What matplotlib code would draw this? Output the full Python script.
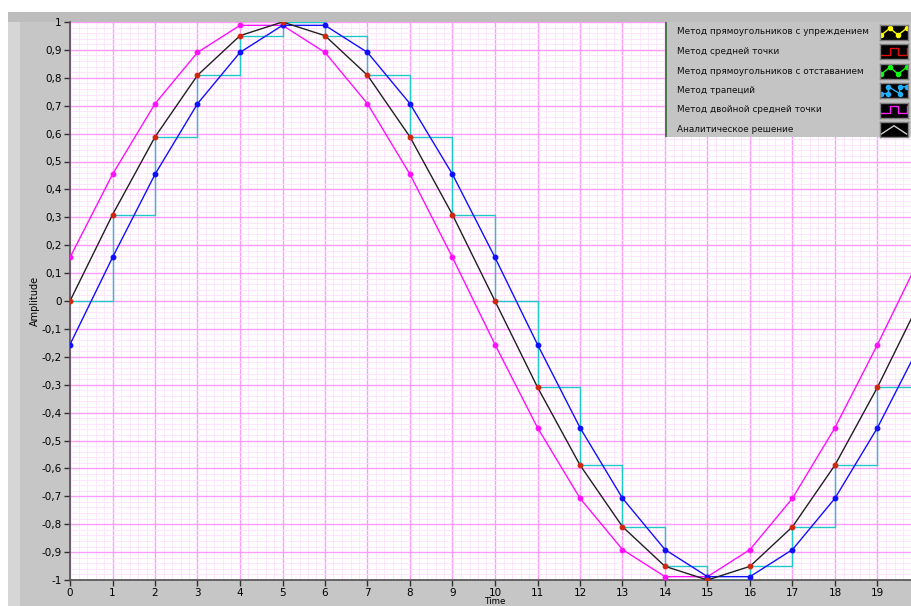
import matplotlib
matplotlib.use("Agg")
import matplotlib.pyplot as plt
from matplotlib.ticker import MultipleLocator, FixedLocator
from matplotlib.patches import Rectangle

# ---- data ----
t = list(range(0, 21))
analytic = [0, 0.309, 0.588, 0.809, 0.951, 1.0, 0.951, 0.809, 0.588, 0.309, 0,
            -0.309, -0.588, -0.809, -0.951, -1.0, -0.951, -0.809, -0.588, -0.309, 0]
lead = [0.156, 0.454, 0.707, 0.891, 0.988, 0.988, 0.891, 0.707, 0.454, 0.156, -0.156,
        -0.454, -0.707, -0.891, -0.988, -0.988, -0.891, -0.707, -0.454, -0.156, 0.156]
lag = [-0.156, 0.156, 0.454, 0.707, 0.891, 0.988, 0.988, 0.891, 0.707, 0.454, 0.156,
       -0.156, -0.454, -0.707, -0.891, -0.988, -0.988, -0.891, -0.707, -0.454, -0.156]
step_vals = analytic
x_ticks = list(range(0, 20))
y_ticks = [1, 0.9, 0.8, 0.7, 0.6, 0.5, 0.4, 0.3, 0.2, 0.1, 0, -0.1, -0.2, -0.3, -0.4,
           -0.5, -0.6, -0.7, -0.8, -0.9, -1]
legend_labels = ["Метод прямоугольников с упреждением", "Метод средней точки",
                 "Метод прямоугольников с отставанием", "Метод трапеций",
                 "Метод двойной средней точки", "Аналитическое решение"]

W, H = 912, 606
fig = plt.figure(figsize=(W / 100, H / 100), dpi=100, facecolor="white")

def fx(px):
    return px / W

def fy(py):
    return 1 - py / H

# panel background
fig.patches.append(Rectangle((fx(8), 0), 1 - fx(8), fy(12), transform=fig.transFigure,
                             facecolor="#c6c6c6", edgecolor="none", zorder=-10))
fig.patches.append(Rectangle((fx(8), 0), fx(12), fy(12), transform=fig.transFigure,
                             facecolor="#d6d6d6", edgecolor="none", zorder=-9))
fig.patches.append(Rectangle((fx(8), fy(22)), 1 - fx(8), fy(12) - fy(22), transform=fig.transFigure,
                             facecolor="#bdbdbd", edgecolor="none", zorder=-9))

left, top, bottom = 70, 22, 580
ax = fig.add_axes([fx(left), fy(bottom), 1 - fx(left), fy(top) - fy(bottom)])
ax.set_facecolor("white")
xmax = (W - left) / 42.5
ax.set_xlim(0, xmax)
ax.set_ylim(-1, 1)

ax.xaxis.set_major_locator(FixedLocator(x_ticks))
ax.xaxis.set_minor_locator(MultipleLocator(0.2))
ax.yaxis.set_major_locator(FixedLocator(y_ticks))
ax.yaxis.set_minor_locator(MultipleLocator(0.02))
ax.set_xticklabels([str(v) for v in x_ticks])
ax.set_yticklabels([("%g" % v).replace(".", ",") for v in y_ticks])
ax.grid(which="minor", color="#ffe2ff", lw=0.6, zorder=0)
ax.grid(which="major", color="#ff9cff", lw=1.0, zorder=0)
ax.set_axisbelow(True)
ax.tick_params(which="minor", length=0)
ax.tick_params(which="major", direction="out", length=4, width=1, color="#303030",
               labelsize=7.5, pad=2, labelcolor="black")
for s in ["top", "right"]:
    ax.spines[s].set_visible(False)
for s in ["left", "bottom"]:
    ax.spines[s].set_color("#505050")
    ax.spines[s].set_linewidth(1.2)

ax.step(t, step_vals, where="post", color="#20c8c8", lw=1.0, zorder=3)
ax.plot(t, lead, color="#ff10ff", lw=1.0, marker="o", ms=3.2, zorder=4)
ax.plot(t, lag, color="#1010ff", lw=1.0, marker="o", ms=3.2, zorder=4)
ax.plot(t, analytic, color="#202020", lw=1.0, zorder=5)
ax.plot(t, analytic, ls="none", marker="o", ms=3.2, color="#d02810", zorder=6)

fig.text(fx(35), fy(301), "Amplitude", rotation=90, ha="center", va="center", fontsize=7)
fig.text(fx(495), fy(606), "Time", ha="center", va="bottom", fontsize=6.3)

# legend panel
lx0, ly0, lx1, ly1 = 665, 22, 912, 137
fig.patches.append(Rectangle((fx(lx0), fy(ly1)), fx(lx1) - fx(lx0), fy(ly0) - fy(ly1),
                             transform=fig.transFigure, facecolor="#c4c4c4",
                             edgecolor="none", zorder=10))
fig.patches.append(Rectangle((fx(lx0), fy(ly1)), fx(2), fy(ly0) - fy(ly1),
                             transform=fig.transFigure, facecolor="#4a7a4a",
                             edgecolor="none", zorder=11))
icon_colors = ["#ffff00", "#e01010", "#10ff10", "#20b0ff", "#ff20ff", "#d0d0d0"]
icon_kind = ["zig", "pulse", "zig", "trap", "pulse", "line"]
for i, lab in enumerate(legend_labels):
    yc = 32 + i * 19.5
    fig.text(fx(677), fy(yc), lab, ha="left", va="center", fontsize=6.4, color="#101010", zorder=12)
    iax = fig.add_axes([fx(880), fy(yc + 7.5), fx(28), fy(yc - 7.5) - fy(yc + 7.5)], zorder=13)
    iax.set_facecolor("black")
    iax.set_xlim(0, 1)
    iax.set_ylim(0, 1)
    iax.set_xticks([])
    iax.set_yticks([])
    for s in iax.spines.values():
        s.set_color("#808080")
        s.set_linewidth(1)
    c = icon_colors[i]
    k = icon_kind[i]
    if k == "zig":
        iax.plot([0.05, 0.35, 0.65, 0.95], [0.3, 0.75, 0.3, 0.75], color=c, lw=1, marker="o", ms=3)
    elif k == "pulse":
        iax.plot([0.05, 0.35, 0.35, 0.65, 0.65, 0.95, 0.95], [0.3, 0.3, 0.75, 0.75, 0.3, 0.3, 0.75], color=c, lw=1)
    elif k == "trap":
        iax.plot([0.05, 0.3, 0.3, 0.7, 0.7, 0.95], [0.3, 0.3, 0.75, 0.3, 0.75, 0.75], color=c, lw=1, marker="o", ms=3)
    else:
        iax.plot([0.05, 0.5, 0.95], [0.2, 0.75, 0.2], color=c, lw=1)

fig.savefig("out.png", dpi=100, facecolor="white")
